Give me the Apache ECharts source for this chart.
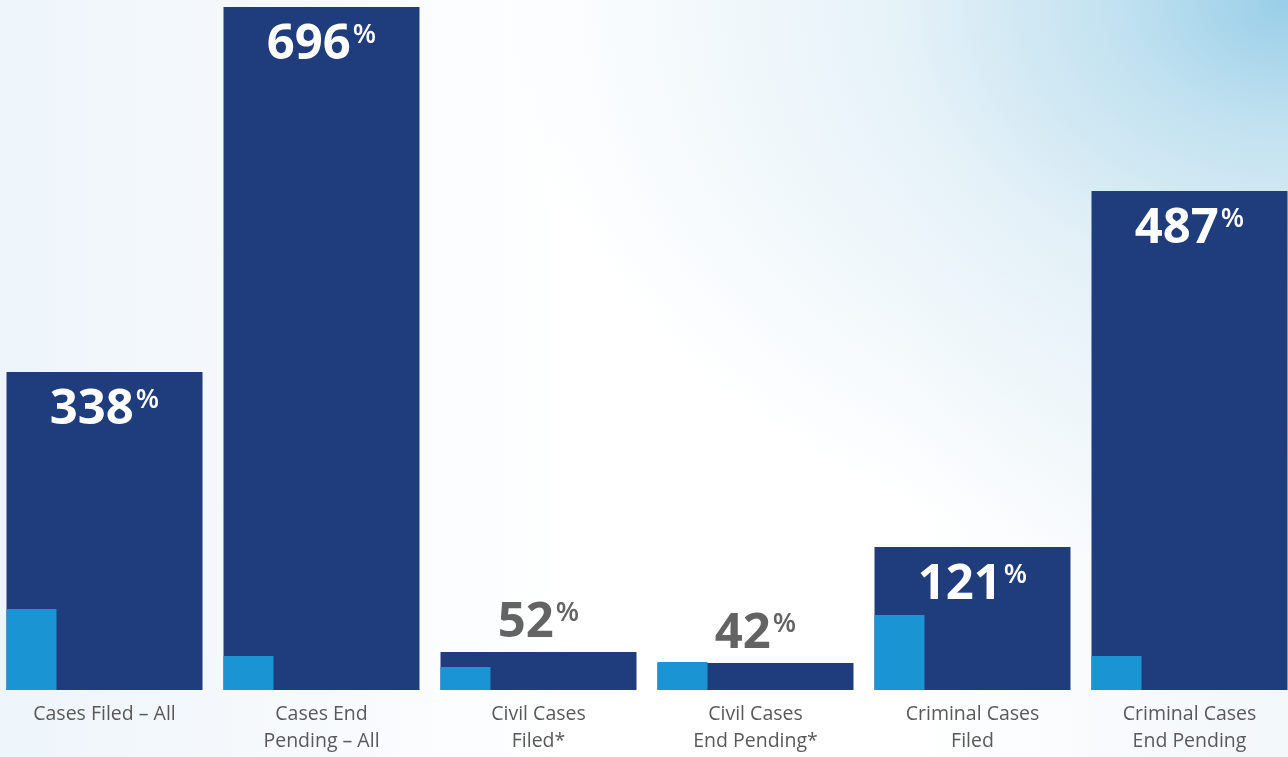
<!DOCTYPE html>
<html>
<head>
<meta charset="utf-8">
<script src="https://cdn.jsdelivr.net/npm/echarts@6/dist/echarts.min.js"></script>
<style>
html,body{margin:0;padding:0;width:1288px;height:757px;overflow:hidden;position:relative;}
body{
  background:
    radial-gradient(ellipse 780px 580px at 100% 0%, rgba(152,206,232,1) 0%, rgba(188,223,239,0.9) 22%, rgba(216,235,245,0.65) 50%, rgba(255,255,255,0) 100%),
    linear-gradient(to right, #eef5fa 0%, #f7fafd 25%, #ffffff 45%, #ffffff 70%, #f2f7fa 100%);
}
#c{position:absolute;left:-80px;top:0;width:1382px;height:757px;}
</style>
</head>
<body>
<div id="c"></div>
<script>
const categories = ['Cases Filed – All', 'Cases End\nPending – All', 'Civil Cases\nFiled*', 'Civil Cases\nEnd Pending*', 'Criminal Cases\nFiled', 'Criminal Cases\nEnd Pending'];
const percentLabels = [338, 696, 52, 42, 121, 487];
const currentValues = [318, 683, 38, 27, 143, 499];
const baseValues = [81, 34, 23, 28, 75, 34];

const DARK = '#1f3c7c';
const LIGHT = '#1a94d2';
const yMax = 683;

const chart = echarts.init(document.getElementById('c'), null, {renderer: 'canvas'});

const darkData = currentValues.map((v, i) => {
  const inside = v > 100;
  const col = inside ? '#ffffff' : '#636363';
  return {
    value: v,
    label: {
      show: true,
      position: inside ? 'insideTop' : 'top',
      distance: inside ? 12 : 3,
      color: col,
      formatter: () => '{n|' + percentLabels[i] + '}{p|%}',
      rich: {
        n: {fontFamily: 'Open Sans', fontWeight: 'bold', fontSize: 49, lineHeight: 52, color: col},
        p: {fontFamily: 'Open Sans', fontWeight: 600, fontSize: 27, lineHeight: 28, verticalAlign: 'top', padding: [3, 0, 0, 2], color: col}
      }
    }
  };
});

chart.setOption({
  backgroundColor: 'transparent',
  animation: false,
  grid: [
    {left: 76, width: 1302, top: 7, bottom: 67},
    {left: 3, width: 1302, top: 7, bottom: 67}
  ],
  xAxis: [
    {
      type: 'category', data: categories, gridIndex: 0,
      axisLine: {show: false}, axisTick: {show: false},
      axisLabel: {
        interval: 0, margin: 11, color: '#595959',
        fontFamily: 'Open Sans', fontSize: 19.5, lineHeight: 27, align: 'center'
      }
    },
    {
      type: 'category', data: categories, gridIndex: 1, show: false
    }
  ],
  yAxis: [
    {type: 'value', min: 0, max: yMax, gridIndex: 0, show: false, splitLine: {show: false}},
    {type: 'value', min: 0, max: yMax, gridIndex: 1, show: false, splitLine: {show: false}}
  ],
  series: [
    {
      type: 'bar', xAxisIndex: 0, yAxisIndex: 0, barWidth: 196, z: 2,
      itemStyle: {color: DARK}, data: darkData
    },
    {
      type: 'bar', xAxisIndex: 1, yAxisIndex: 1, barWidth: 50, z: 3,
      itemStyle: {color: LIGHT}, data: baseValues
    }
  ]
});
</script>
</body>
</html>
